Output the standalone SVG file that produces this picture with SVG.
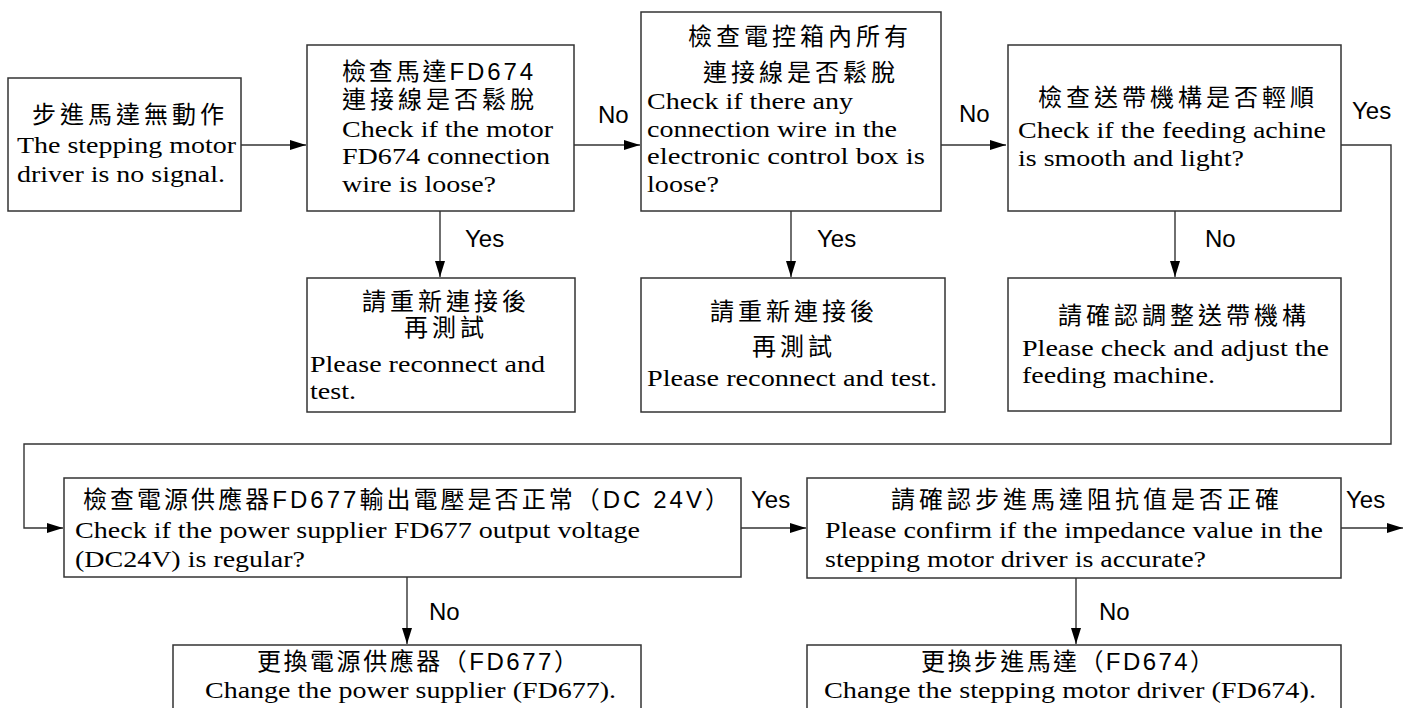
<svg xmlns="http://www.w3.org/2000/svg" width="1413" height="708" viewBox="0 0 1413 708">
<defs>
<marker id="ah" markerWidth="16" markerHeight="10" refX="16" refY="5" orient="auto" markerUnits="userSpaceOnUse">
<path d="M0,0 L16,5 L0,10 Z" fill="#000"/>
</marker>
<style>
.box{fill:#fff;stroke:#333;stroke-width:1.5}
.cn{font-family:"Liberation Sans","Noto Sans CJK TC",sans-serif;font-size:24px;letter-spacing:4px;fill:#000}
.en{font-family:"Liberation Serif",serif;font-size:24px;fill:#000}
.lb{font-family:"Liberation Sans",sans-serif;font-size:24px;fill:#000}
.ln{fill:none;stroke:#333;stroke-width:1.4}
</style>
</defs>
<rect width="1413" height="708" fill="#fff"/>

<g id="connectors">
<line class="ln" x1="241" y1="145" x2="306" y2="145" marker-end="url(#ah)"/>
<line class="ln" x1="574" y1="145" x2="640" y2="145" marker-end="url(#ah)"/>
<text class="lb" x="598" y="123">No</text>
<line class="ln" x1="941" y1="145" x2="1006" y2="145" marker-end="url(#ah)"/>
<text class="lb" x="959" y="122">No</text>
<polyline class="ln" points="1341,145 1391,145 1391,444 24,444 24,528 63,528" marker-end="url(#ah)"/>
<text class="lb" x="1352" y="119">Yes</text>
<line class="ln" x1="440" y1="211" x2="440" y2="277" marker-end="url(#ah)"/>
<text class="lb" x="465" y="247">Yes</text>
<line class="ln" x1="791" y1="211" x2="791" y2="277" marker-end="url(#ah)"/>
<text class="lb" x="817" y="247">Yes</text>
<line class="ln" x1="1175" y1="211" x2="1175" y2="277" marker-end="url(#ah)"/>
<text class="lb" x="1205" y="247">No</text>
<line class="ln" x1="741" y1="528" x2="806" y2="528" marker-end="url(#ah)"/>
<text class="lb" x="751" y="508">Yes</text>
<line class="ln" x1="1341" y1="528" x2="1403" y2="528" marker-end="url(#ah)"/>
<text class="lb" x="1346" y="508">Yes</text>
<line class="ln" x1="407" y1="577" x2="407" y2="644" marker-end="url(#ah)"/>
<text class="lb" x="429" y="620">No</text>
<line class="ln" x1="1076" y1="578" x2="1076" y2="644" marker-end="url(#ah)"/>
<text class="lb" x="1099" y="620">No</text>
</g>

<g id="n1">
<rect class="box" x="8" y="78" width="233" height="133"/>
<text class="cn" x="32" y="123">步進馬達無動作</text>
<text class="en" x="17" y="153" textLength="219" lengthAdjust="spacingAndGlyphs">The stepping motor</text>
<text class="en" x="17" y="182" textLength="208" lengthAdjust="spacingAndGlyphs">driver is no signal.</text>
</g>

<g id="n2">
<rect class="box" x="307" y="45" width="267" height="166"/>
<text class="cn" x="342" y="80" textLength="195">檢查馬達FD674</text>
<text class="cn" x="342" y="108">連接線是否鬆脫</text>
<text class="en" x="342" y="137" textLength="211" lengthAdjust="spacingAndGlyphs">Check if the motor</text>
<text class="en" x="342" y="164" textLength="208" lengthAdjust="spacingAndGlyphs">FD674 connection</text>
<text class="en" x="342" y="192" textLength="154" lengthAdjust="spacingAndGlyphs">wire is loose?</text>
</g>

<g id="n3">
<rect class="box" x="641" y="12" width="300" height="199"/>
<text class="cn" x="688" y="45">檢查電控箱內所有</text>
<text class="cn" x="703" y="81">連接線是否鬆脫</text>
<text class="en" x="647" y="109" textLength="206" lengthAdjust="spacingAndGlyphs">Check if there any</text>
<text class="en" x="647" y="137" textLength="250" lengthAdjust="spacingAndGlyphs">connection wire in the</text>
<text class="en" x="647" y="164" textLength="278" lengthAdjust="spacingAndGlyphs">electronic control box is</text>
<text class="en" x="647" y="192" textLength="72" lengthAdjust="spacingAndGlyphs">loose?</text>
</g>

<g id="n4">
<rect class="box" x="1008" y="45" width="333" height="166"/>
<text class="cn" x="1038" y="106">檢查送帶機構是否輕順</text>
<text class="en" x="1018" y="138" textLength="308" lengthAdjust="spacingAndGlyphs">Check if the feeding achine</text>
<text class="en" x="1018" y="166" textLength="226" lengthAdjust="spacingAndGlyphs">is smooth and light?</text>
</g>

<g id="n5">
<rect class="box" x="307" y="278" width="268" height="134"/>
<text class="cn" x="362" y="310">請重新連接後</text>
<text class="cn" x="404" y="336">再測試</text>
<text class="en" x="310" y="372" textLength="235" lengthAdjust="spacingAndGlyphs">Please reconnect and</text>
<text class="en" x="310" y="399" textLength="46" lengthAdjust="spacingAndGlyphs">test.</text>
</g>

<g id="n6">
<rect class="box" x="641" y="278" width="304" height="134"/>
<text class="cn" x="710" y="320">請重新連接後</text>
<text class="cn" x="752" y="355">再測試</text>
<text class="en" x="647" y="386" textLength="290" lengthAdjust="spacingAndGlyphs">Please reconnect and test.</text>
</g>

<g id="n7">
<rect class="box" x="1008" y="278" width="333" height="133"/>
<text class="cn" x="1058" y="324">請確認調整送帶機構</text>
<text class="en" x="1022" y="356" textLength="307" lengthAdjust="spacingAndGlyphs">Please check and adjust the</text>
<text class="en" x="1022" y="383" textLength="193" lengthAdjust="spacingAndGlyphs">feeding machine.</text>
</g>

<g id="n8">
<rect class="box" x="64" y="478" width="677" height="99"/>
<text class="cn" x="83" y="508" textLength="650">檢查電源供應器FD677輸出電壓是否正常（DC 24V）</text>
<text class="en" x="75" y="538" textLength="565" lengthAdjust="spacingAndGlyphs">Check if the power supplier FD677 output voltage</text>
<text class="en" x="75" y="567" textLength="230" lengthAdjust="spacingAndGlyphs">(DC24V) is regular?</text>
</g>

<g id="n9">
<rect class="box" x="807" y="478" width="534" height="100"/>
<text class="cn" x="891" y="508">請確認步進馬達阻抗值是否正確</text>
<text class="en" x="825" y="538" textLength="498" lengthAdjust="spacingAndGlyphs">Please confirm if the impedance value in the</text>
<text class="en" x="825" y="567" textLength="381" lengthAdjust="spacingAndGlyphs">stepping motor driver is accurate?</text>
</g>

<g id="n10">
<rect class="box" x="173" y="645" width="468" height="80"/>
<text class="cn" x="257" y="670" textLength="325">更換電源供應器（FD677）</text>
<text class="en" x="205" y="698" textLength="411" lengthAdjust="spacingAndGlyphs">Change the power supplier (FD677).</text>
</g>

<g id="n11">
<rect class="box" x="807" y="645" width="534" height="80"/>
<text class="cn" x="921" y="670" textLength="297">更換步進馬達（FD674）</text>
<text class="en" x="824" y="698" textLength="492" lengthAdjust="spacingAndGlyphs">Change the stepping motor driver (FD674).</text>
</g>
</svg>
